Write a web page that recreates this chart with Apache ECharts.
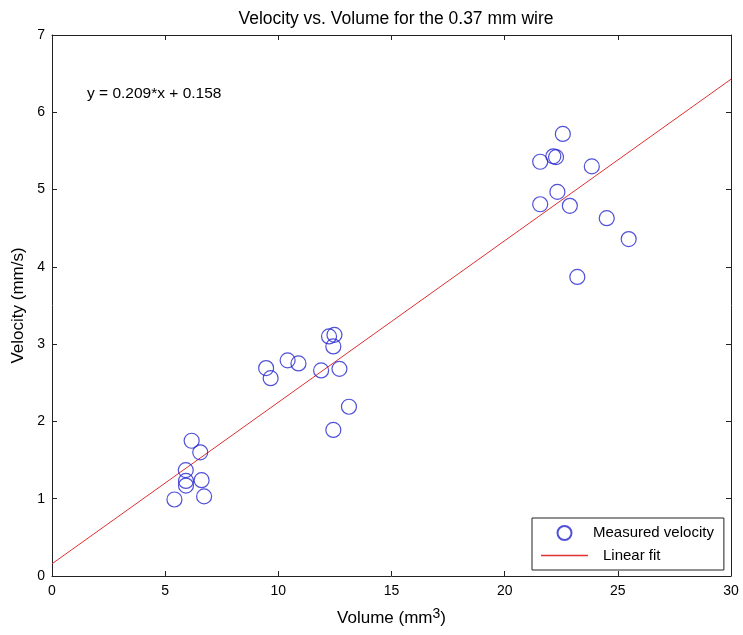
<!DOCTYPE html>
<html>
<head>
<meta charset="utf-8">
<script src="https://cdn.jsdelivr.net/npm/echarts@6/dist/echarts.min.js"></script>
<style>
  html, body { margin: 0; padding: 0; background: #fff; }
  #chart { width: 743px; height: 635px; }
</style>
</head>
<body>
<div id="chart"></div>
<script>
// measured points, volume (mm^3) and velocity (mm/s)
const volume = [
  5.41, 6.17, 6.55, 5.91, 5.92, 5.92, 6.61, 6.72,
  9.46, 9.66, 10.41, 10.89, 11.89, 12.70, 12.24, 12.48, 12.43, 13.12, 12.43,
  22.57, 21.57, 22.15, 22.27, 23.85, 22.33, 21.57, 22.88, 24.51, 25.48, 23.21
]
const velocity = [
  0.99, 1.75, 1.60, 1.37, 1.23, 1.17, 1.24, 1.03,
  2.69, 2.56, 2.79, 2.75, 2.66, 2.68, 3.10, 3.12, 2.97, 2.19, 1.89,
  5.72, 5.36, 5.43, 5.42, 5.30, 4.97, 4.81, 4.79, 4.63, 4.36, 3.87
]
// linear fit y = slope*x + intercept
const slope = 0.209
const intercept = 0.158
const fitX = [0, 30]

const xTicks = [0, 5, 10, 15, 20, 25, 30]
const yTicks = [0, 1, 2, 3, 4, 5, 6, 7]

const font = 'Liberation Sans, Arial, sans-serif'
const axisColor = '#222'
const blue = '#2424d0'
const red = '#e03030'

const scatterData = volume.map((v, i) => [v, velocity[i]])
const fitData = fitX.map(x => [x, slope * x + intercept])

const baseAxis = {
  type: 'value',
  axisLine: { show: true, onZero: false, lineStyle: { color: axisColor, width: 1 } },
  axisTick: { show: true, inside: true, length: 5, lineStyle: { color: axisColor } },
  splitLine: { show: false }
}

var myChart = echarts.init(document.getElementById('chart'), null, { renderer: 'canvas' })
const option = {
  backgroundColor: '#fff',
  animation: false,
  title: {
    text: 'Velocity vs. Volume for the 0.37 mm wire',
    left: 391,
    textAlign: 'center',
    top: 5,
    textStyle: { fontFamily: font, fontSize: 17.5, fontWeight: 'normal', color: '#000' }
  },
  grid: { left: 52, right: 12, top: 35, bottom: 59 },
  legend: {
    orient: 'vertical',
    align: 'left',
    left: 532,
    top: 518,
    padding: [7, 10, 7, 9],
    borderColor: axisColor,
    borderWidth: 1,
    backgroundColor: '#fff',
    itemWidth: 47,
    itemHeight: 14,
    itemGap: 7,
    textStyle: { fontFamily: font, fontSize: 15, color: '#000', padding: [0, 0, 0, 0] },
    data: [
      { name: 'Measured velocity', icon: 'circle' },
      {
        name: 'Linear fit',
        icon: 'path://M0,0 L47,0 L47,1.6 L0,1.6 Z',
        itemStyle: { color: red, borderColor: red, borderWidth: 0 },
        textStyle: { padding: [0, 0, 0, 10] }
      }
    ]
  },
  xAxis: [
    Object.assign({}, baseAxis, {
      min: xTicks[0], max: xTicks[xTicks.length - 1], interval: 5,
      name: 'Volume (mm{s|3})',
      nameLocation: 'middle',
      nameGap: 31,
      nameTextStyle: {
        fontFamily: font, fontSize: 17, color: '#000',
        rich: { s: { fontFamily: font, fontSize: 14, color: '#000', verticalAlign: 'top', padding: [0, 0, 8, 0] } }
      },
      axisLabel: { fontFamily: font, fontSize: 14, color: '#000', margin: 8 }
    }),
    Object.assign({}, baseAxis, {
      position: 'top',
      min: xTicks[0], max: xTicks[xTicks.length - 1], interval: 5,
      axisLabel: { show: false }
    })
  ],
  yAxis: [
    Object.assign({}, baseAxis, {
      min: yTicks[0], max: yTicks[yTicks.length - 1], interval: 1,
      name: 'Velocity (mm/s)',
      nameLocation: 'middle',
      nameGap: 20,
      nameTextStyle: { fontFamily: font, fontSize: 17, color: '#000' },
      axisLabel: { fontFamily: font, fontSize: 14, color: '#000', margin: 7 }
    }),
    Object.assign({}, baseAxis, {
      position: 'right',
      min: yTicks[0], max: yTicks[yTicks.length - 1], interval: 1,
      axisLabel: { show: false }
    })
  ],
  graphic: [
    {
      type: 'text',
      left: 87,
      top: 86,
      style: { text: 'y = 0.209*x + 0.158', font: '15.5px ' + font, fill: '#000' }
    }
  ],
  series: [
    {
      name: 'Measured velocity',
      type: 'scatter',
      data: scatterData,
      symbol: 'circle',
      symbolSize: 15,
      itemStyle: { color: 'rgba(0,0,0,0)', borderColor: blue, borderWidth: 1.2 },
      z: 3
    },
    {
      name: 'Linear fit',
      type: 'line',
      data: fitData,
      symbol: 'none',
      lineStyle: { color: red, width: 1 },
      itemStyle: { color: red },
      z: 2
    }
  ]
}
myChart.setOption(option)
</script>
</body>
</html>
